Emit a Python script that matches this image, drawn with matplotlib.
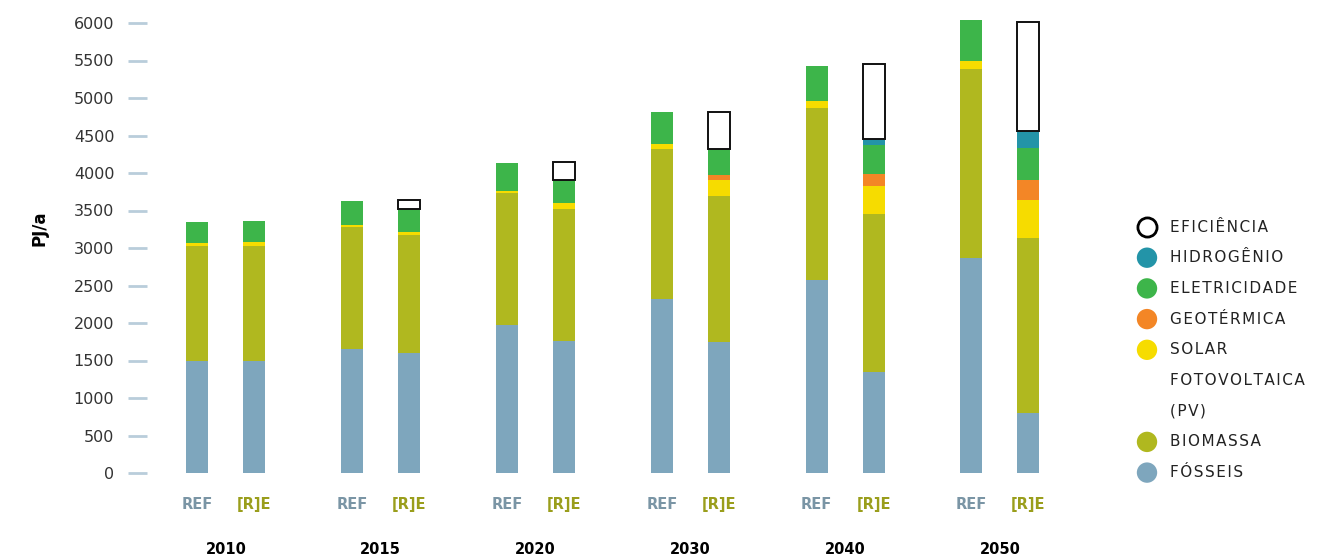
import numpy as np
import matplotlib
matplotlib.use("Agg")
from matplotlib import pyplot as plt
from matplotlib.transforms import blended_transform_factory

# data (PJ/a), one value per year
years = ["2010", "2015", "2020", "2030", "2040", "2050"]

ref_fosseis = [1500, 1650, 1970, 2320, 2580, 2870]
ref_biomassa = [1525, 1630, 1760, 2000, 2290, 2515]
ref_solar = [40, 30, 30, 65, 85, 105]
ref_geotermica = [0, 0, 0, 0, 0, 0]
ref_eletricidade = [280, 320, 370, 430, 470, 550]
ref_hidrogenio = [0, 0, 0, 0, 0, 0]
ref_eficiencia = [0, 0, 0, 0, 0, 0]

re_fosseis = [1500, 1600, 1760, 1750, 1350, 800]
re_biomassa = [1530, 1575, 1760, 1945, 2100, 2340]
re_solar = [45, 40, 80, 215, 375, 500]
re_geotermica = [0, 0, 0, 60, 160, 265]
re_eletricidade = [285, 305, 310, 355, 390, 435]
re_hidrogenio = [0, 0, 0, 0, 75, 220]
re_eficiencia = [0, 120, 240, 495, 1000, 1460]

yticks = [0, 500, 1000, 1500, 2000, 2500, 3000, 3500, 4000, 4500, 5000, 5500, 6000]

legend_labels = ["EFICIÊNCIA", "HIDROGÊNIO", "ELETRICIDADE", "GEOTÉRMICA",
                 "SOLAR", "FOTOVOLTAICA", "(PV)", "BIOMASSA", "FÓSSEIS"]

colors = {
    "fosseis": "#7ea6bd",
    "biomassa": "#b0b81f",
    "solar": "#f6dc00",
    "geotermica": "#f38626",
    "eletricidade": "#3db54a",
    "hidrogenio": "#2394a8",
}

ref_layers = [("fosseis", ref_fosseis), ("biomassa", ref_biomassa), ("solar", ref_solar),
              ("geotermica", ref_geotermica), ("eletricidade", ref_eletricidade),
              ("hidrogenio", ref_hidrogenio), ("eficiencia", ref_eficiencia)]
re_layers = [("fosseis", re_fosseis), ("biomassa", re_biomassa), ("solar", re_solar),
             ("geotermica", re_geotermica), ("eletricidade", re_eletricidade),
             ("hidrogenio", re_hidrogenio), ("eficiencia", re_eficiencia)]

W, H = 1331, 559
fig = plt.figure(figsize=(W / 100, H / 100), dpi=100)
ax = fig.add_axes([147 / W, (H - 473) / H, (1060 - 147) / W, 457.5 / H])

x = np.arange(len(years))
offset = 0.184
width = 0.142


def stack(ax, xpos, layers):
    bottom = np.zeros(len(years))
    for name, vals in layers:
        vals = np.array(vals, dtype=float)
        if name == "eficiencia":
            ax.bar(xpos[vals > 0], vals[vals > 0], width, bottom=bottom[vals > 0],
                   color="white", edgecolor="#111111", linewidth=1.4)
        else:
            ax.bar(xpos, vals, width, bottom=bottom, color=colors[name], linewidth=0)
        bottom += vals


stack(ax, x - offset, ref_layers)
stack(ax, x + offset, re_layers)

ax.set_ylim(0, 6100)
ax.set_xlim(-0.510, 5.388)
for s in ax.spines.values():
    s.set_visible(False)

ax.set_yticks(yticks)
ax.set_yticklabels([str(t) for t in yticks])
ax.tick_params(axis="y", direction="out", length=13.5, width=2, color="#b9cddb",
               pad=10, labelsize=11.5, labelcolor="#333333")

# REF / [R]E labels
xt = np.concatenate([x - offset, x + offset])
ax.set_xticks(xt)
ax.set_xticklabels(["REF"] * len(years) + ["[R]E"] * len(years), fontweight="bold", fontsize=10.5)
for lab in ax.get_xticklabels():
    lab.set_color("#7a95a5" if lab.get_text() == "REF" else "#9a9e1c")
ax.tick_params(axis="x", length=0, pad=17)

trans = blended_transform_factory(ax.transData, ax.transAxes)
for xi, yr in zip(x, years):
    ax.text(xi, -0.167, yr, transform=trans, ha="center", va="center",
            fontweight="bold", fontsize=10.5, color="black")

fig.text(40 / W, 1 - 228 / H, "PJ/a", rotation=90, ha="center", va="center",
         fontweight="bold", fontsize=12)

# legend drawn by hand
lax = fig.add_axes([0, 0, 1, 1])
lax.set_xlim(0, W)
lax.set_ylim(H, 0)
lax.axis("off")
markers = [("white", "black"), (colors["hidrogenio"], None), (colors["eletricidade"], None),
           (colors["geotermica"], None), (colors["solar"], None), None, None,
           (colors["biomassa"], None), (colors["fosseis"], None)]
for i, (lab, mk) in enumerate(zip(legend_labels, markers)):
    yy = 227 + i * 30.7
    if mk is not None:
        fc, ec = mk
        if ec:
            lax.scatter([1147], [yy], s=190, facecolor=fc, edgecolor=ec, linewidth=2)
        else:
            lax.scatter([1147], [yy], s=215, facecolor=fc, edgecolor="none")
    lax.text(1170, yy, "\u200a".join(lab), ha="left", va="center", fontsize=11,
             color="#222222")

fig.savefig("out.png", dpi=100)
